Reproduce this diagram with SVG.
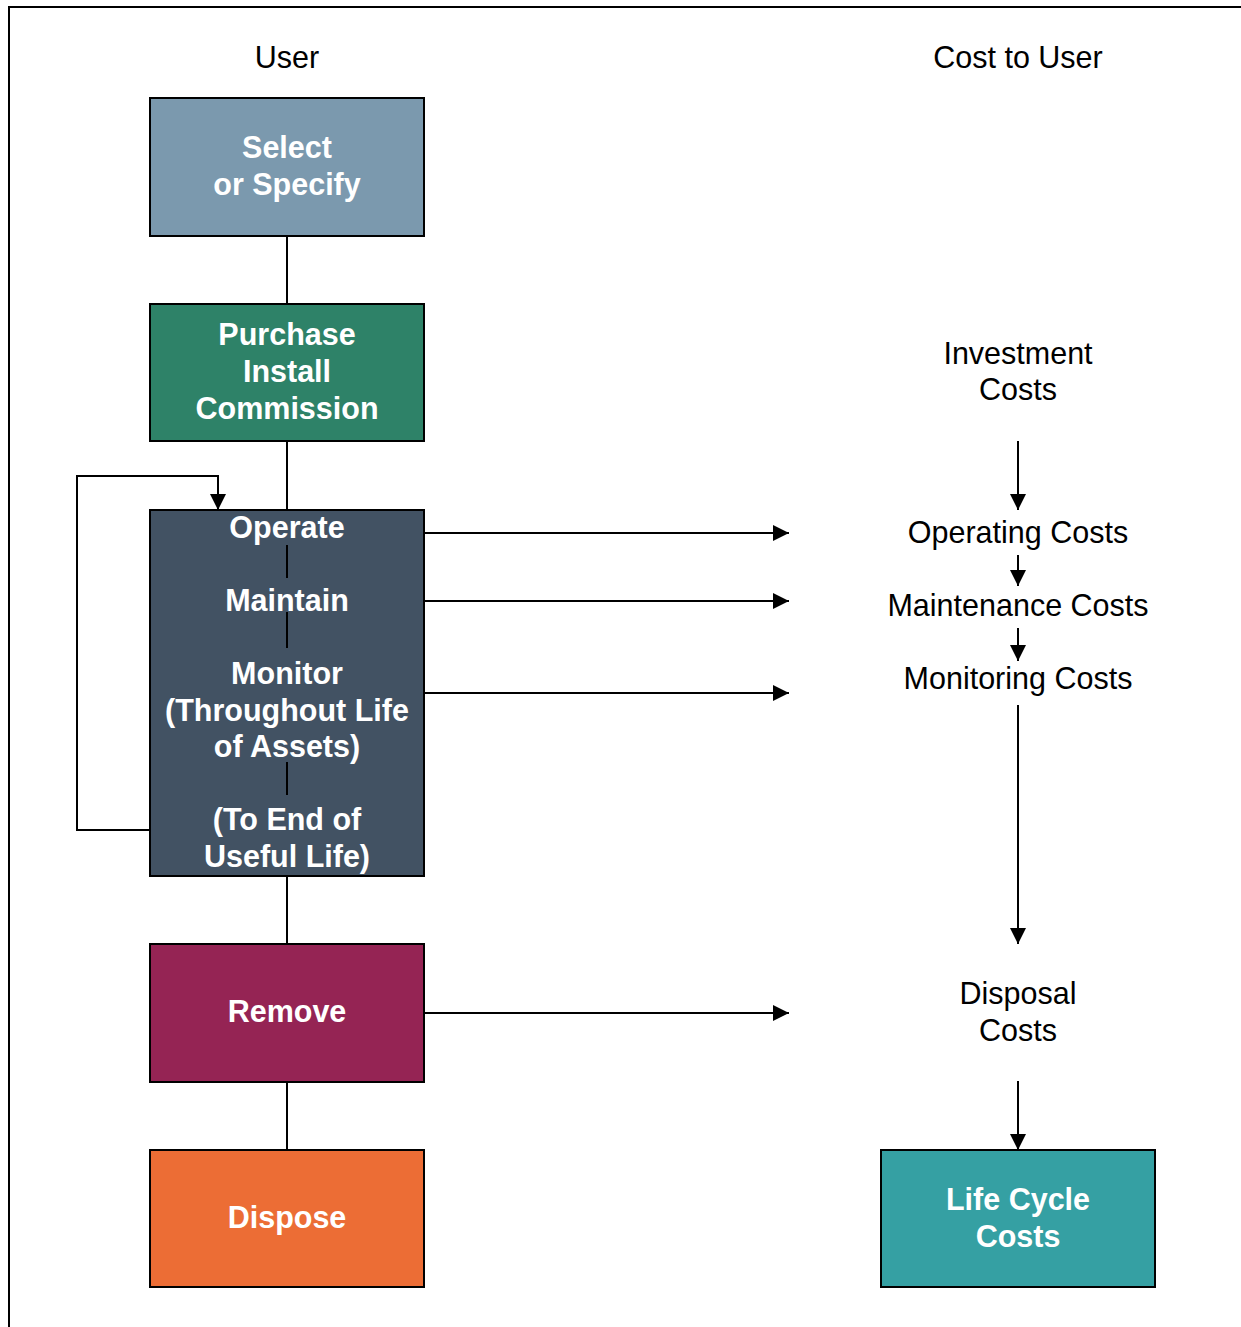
<svg xmlns="http://www.w3.org/2000/svg" width="1241" height="1327" viewBox="0 0 1241 1327">
<style>
.box{stroke:#000;stroke-width:2}
.bt{font-family:"Liberation Sans",Arial,sans-serif;font-size:30.5px;font-weight:bold;fill:#fff;text-anchor:middle}
.lt{font-family:"Liberation Sans",Arial,sans-serif;font-size:30.5px;fill:#000;text-anchor:middle}
.ln{stroke:#000;stroke-width:2;fill:none}
</style>
<defs>
<marker id="ah" viewBox="0 0 10 10" refX="10" refY="5" markerWidth="16" markerHeight="16" markerUnits="userSpaceOnUse" orient="auto">
<path d="M0,0 L10,5 L0,10 z" fill="#000"/>
</marker>
</defs>
<rect width="1241" height="1327" fill="#fff"/>
<path d="M9,1327 V7 H1241" class="ln" stroke-width="2.5"/>
<text class="lt" x="287" y="68">User</text>
<text class="lt" x="1018" y="68">Cost to User</text>
<g id="connectors">
<path class="ln" d="M287,236 V304 M287,441 V510 M287,876 V944 M287,1082 V1150"/>
<path class="ln" d="M150,830 H77 V476 H218 V510" marker-end="url(#ah)"/>
<path class="ln" d="M424,533 H789" marker-end="url(#ah)"/>
<path class="ln" d="M424,601 H789" marker-end="url(#ah)"/>
<path class="ln" d="M424,693 H789" marker-end="url(#ah)"/>
<path class="ln" d="M424,1013 H789" marker-end="url(#ah)"/>
<path class="ln" d="M1018,441 V510" marker-end="url(#ah)"/>
<path class="ln" d="M1018,555 V586" marker-end="url(#ah)"/>
<path class="ln" d="M1018,628 V661" marker-end="url(#ah)"/>
<path class="ln" d="M1018,705 V944" marker-end="url(#ah)"/>
<path class="ln" d="M1018,1081 V1150" marker-end="url(#ah)"/>
</g>
<g id="select">
<rect class="box" x="150" y="98" width="274" height="138" fill="#7b99ae"/>
<text class="bt" x="287" y="158">Select</text>
<text class="bt" x="287" y="195">or Specify</text>
</g>
<g id="purchase">
<rect class="box" x="150" y="304" width="274" height="137" fill="#2e8268"/>
<text class="bt" x="287" y="345">Purchase</text>
<text class="bt" x="287" y="382">Install</text>
<text class="bt" x="287" y="419">Commission</text>
</g>
<g id="operate">
<rect class="box" x="150" y="510" width="274" height="366" fill="#425263"/>
<path class="ln" d="M287,545 V578 M287,612 V648 M287,762 V795"/>
<text class="bt" x="287" y="538">Operate</text>
<text class="bt" x="287" y="611">Maintain</text>
<text class="bt" x="287" y="684">Monitor</text>
<text class="bt" x="287" y="721">(Throughout Life</text>
<text class="bt" x="287" y="757">of Assets)</text>
<text class="bt" x="287" y="830">(To End of</text>
<text class="bt" x="287" y="867">Useful Life)</text>
</g>
<g id="remove">
<rect class="box" x="150" y="944" width="274" height="138" fill="#952454"/>
<text class="bt" x="287" y="1022">Remove</text>
</g>
<g id="dispose">
<rect class="box" x="150" y="1150" width="274" height="137" fill="#ec6d35"/>
<text class="bt" x="287" y="1228">Dispose</text>
</g>
<g id="lifecycle">
<rect class="box" x="881" y="1150" width="274" height="137" fill="#35a0a3"/>
<text class="bt" x="1018" y="1210">Life Cycle</text>
<text class="bt" x="1018" y="1247">Costs</text>
</g>
<g id="investment">
<text class="lt" x="1018" y="364">Investment</text>
<text class="lt" x="1018" y="400">Costs</text>
</g>
<g id="operating"><text class="lt" x="1018" y="543">Operating Costs</text></g>
<g id="maintenance"><text class="lt" x="1018" y="616">Maintenance Costs</text></g>
<g id="monitoring"><text class="lt" x="1018" y="689">Monitoring Costs</text></g>
<g id="disposal">
<text class="lt" x="1018" y="1004">Disposal</text>
<text class="lt" x="1018" y="1041">Costs</text>
</g>
</svg>
